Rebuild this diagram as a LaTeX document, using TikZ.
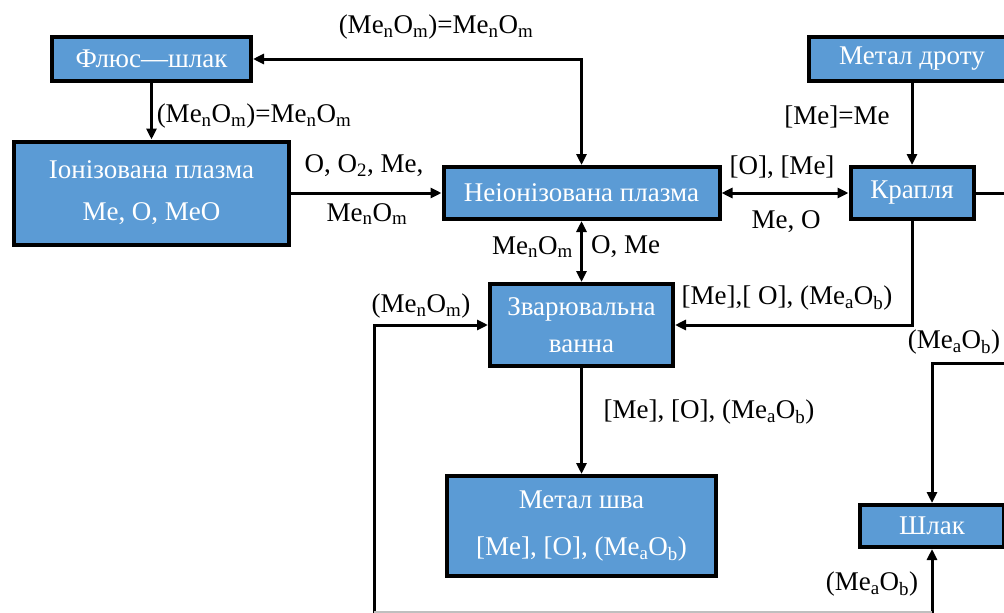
\documentclass[tikz,border=0pt]{standalone}
\usepackage{fontspec}
\setmainfont{Liberation Serif}
\usetikzlibrary{arrows.meta}
\definecolor{boxblue}{RGB}{91,155,213}
\newcommand\sbt[1]{\textsubscript{#1}}
\begin{document}
\begin{tikzpicture}[x=1pt,y=-1pt,
  box/.style={draw=black, line width=4pt, fill=boxblue, text=white,
    font=\fontsize{27}{33}\selectfont, inner sep=0pt, align=center},
  lab/.style={font=\fontsize{27}{33}\selectfont, inner sep=0pt},
  conn/.style={line width=3pt, -{Triangle[length=11pt,width=10pt]}},
  dconn/.style={line width=3pt, {Triangle[length=11pt,width=10pt]}-{Triangle[length=11pt,width=10pt]}},
  plain/.style={line width=3pt}]
\useasboundingbox (0,0) rectangle (1004,613);
\clip (0,0) rectangle (1004,613);

% boxes
\node[box, minimum width=199pt, minimum height=44pt] (flux) at (151.5,59) {Флюс—шлак};
\node[box, minimum width=275pt, minimum height=103pt] (ion) at (151.5,193) {Іонізована плазма\\[9pt]Me, O, MeO};
\node[box, minimum width=276pt, minimum height=52pt] (neion) at (581.5,193) {Неіонізована плазма};
\node[box, minimum width=206pt, minimum height=44pt] (wire) at (912,59) {Метал дроту};
\node[box, minimum width=123pt, minimum height=52pt] (drop) at (912,193) {Крапля};
\node[box, minimum width=183pt, minimum height=82pt] (weld) at (581.5,325) {Зварювальна\\[4pt]ванна};
\node[box, minimum width=269pt, minimum height=100pt] (seam) at (581.5,526) {Метал шва\\[14pt][Me], [O], (Me\sbt{a}O\sbt{b})};
\node[box, minimum width=144pt, minimum height=42pt] (slag) at (932,526) {Шлак};

% free ends
\coordinate (bl) at (374,613);
\coordinate (br) at (932,613);
\coordinate (rr) at (1004,363);
\coordinate (dr) at (1004,193);
\coordinate (gl) at (374,612);
\coordinate (gr) at (932,612);

% connectors
\draw[dconn] (flux.east) -| (neion.north);
\draw[conn] (flux.south) -- (ion.north);
\draw[conn] (ion.east) -- (neion.west);
\draw[dconn] (neion.east) -- (drop.west);
\draw[conn] (wire.south) -- (drop.north);
\draw[dconn] (neion.south) -- (weld.north);
\draw[conn] (drop.south) |- (weld.east);
\draw[conn] (weld.south) -- (seam.north);
\draw[conn] (bl) |- (weld.west);
\draw[conn] (rr) -| (slag.north);
\draw[conn] (br) -- (slag.south);
\draw[plain] (drop.east) -- (dr);
\draw[gray!50, line width=1.5pt] (gl) -- (gr);

% labels
\node[lab] (l1) at (436,27) {(Me\sbt{n}O\sbt{m})=Me\sbt{n}O\sbt{m}};
\node[lab] (l2) at (254,116) {(Me\sbt{n}O\sbt{m})=Me\sbt{n}O\sbt{m}};
\node[lab] (l3) at (364,166) {O, O\sbt{2}, Me,};
\node[lab] (l4) at (367,214) {Me\sbt{n}O\sbt{m}};
\node[lab] (l5) at (782,167) {[O], [Me]};
\node[lab] (l6) at (786,222) {Me, O};
\node[lab] (l7) at (837,117) {[Me]=Me};
\node[lab, anchor=east] (l8) at (573,247) {Me\sbt{n}O\sbt{m}};
\node[lab, anchor=west] (l9) at (591,247) {O, Me};
\node[lab] (l10) at (787,298) {[Me],[ O], (Me\sbt{a}O\sbt{b})};
\node[lab] (l11) at (709,412) {[Me], [O], (Me\sbt{a}O\sbt{b})};
\node[lab] (l12) at (421,306) {(Me\sbt{n}O\sbt{m})};
\node[lab] (l13) at (954,342) {(Me\sbt{a}O\sbt{b})};
\node[lab] (l14) at (872,584) {(Me\sbt{a}O\sbt{b})};
\end{tikzpicture}
\end{document}
